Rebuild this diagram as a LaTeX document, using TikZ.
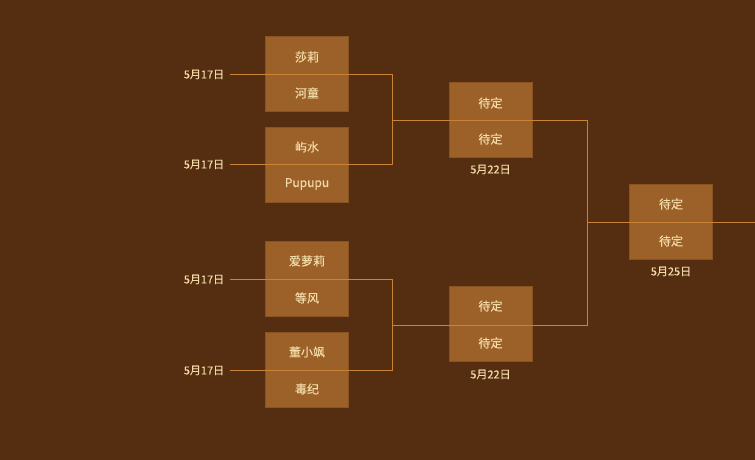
\documentclass[tikz,border=0pt]{standalone}
\usepackage{fontspec}
\setmainfont{Noto Sans CJK SC}[FakeBold=0.4]
\definecolor{bgc}{HTML}{552D11}
\definecolor{boxfill}{HTML}{9C6129}
\definecolor{boxline}{HTML}{8A5322}
\definecolor{linec}{HTML}{C98339}
\definecolor{txtc}{HTML}{F3DBA8}
\begin{document}
\begin{tikzpicture}[x=1pt,y=-1pt,
  matchbox/.style={draw=boxline,fill=boxfill,line width=0.8pt,minimum width=83pt,minimum height=75pt,inner sep=0pt},
  nm/.style={text=txtc,font=\fontsize{12}{14}\selectfont,inner sep=0pt},
  dt/.style={text=txtc,font=\fontsize{11}{13}\selectfont,inner sep=0pt},
  conn/.style={draw=linec,line width=0.9pt}]
\fill[bgc] (0,0) rectangle (755,460);
\useasboundingbox (0,0) rectangle (755,460);
% round 1 boxes
\node[matchbox] (b1) at (307,74) {};
\node[matchbox] (b2) at (307,165) {};
\node[matchbox] (b3) at (307,279) {};
\node[matchbox] (b4) at (307,370) {};
% round 2 boxes
\node[matchbox] (s1) at (490.5,120) {};
\node[matchbox] (s2) at (490.5,324) {};
% final
\node[matchbox] (f1) at (671,222) {};
% names
\node[nm] (n1a) at (307,57) {莎莉};
\node[nm] (n1b) at (307,93) {河童};
\node[nm] (n2a) at (307,147) {屿水};
\node[nm] (n2b) at (307,184) {Pupupu};
\node[nm] (n3a) at (307,261) {爱萝莉};
\node[nm] (n3b) at (307,298) {等风};
\node[nm] (n4a) at (307,352) {董小飒};
\node[nm] (n4b) at (307,389) {毒纪};
\node[nm] (s1a) at (490.5,103) {待定};
\node[nm] (s1b) at (490.5,139) {待定};
\node[nm] (s2a) at (490.5,306) {待定};
\node[nm] (s2b) at (490.5,343) {待定};
\node[nm] (f1a) at (671,204) {待定};
\node[nm] (f1b) at (671,241) {待定};
% dates
\node[dt] (d1) at (204,74.5) {5月17日};
\node[dt] (d2) at (204,164.5) {5月17日};
\node[dt] (d3) at (204,279.5) {5月17日};
\node[dt] (d4) at (204,370.5) {5月17日};
\node[dt] (d5) at (490.5,169.5) {5月22日};
\node[dt] (d6) at (490.5,374.5) {5月22日};
\node[dt] (d7) at (671,271.5) {5月25日};
% connector coordinates
\coordinate (p1) at (230,74);
\coordinate (p2) at (230,164);
\coordinate (p3) at (230,279);
\coordinate (p4) at (230,370);
\coordinate (j1) at (392.5,120);
\coordinate (j2) at (392.5,325);
\coordinate (j3) at (587.5,222);
\coordinate (endf) at (755,222);
% connectors
\draw[conn] (p1) -| (j1) |- (p2);
\draw[conn] (p3) -| (j2) |- (p4);
\draw[conn] (j1) -- (s1.center -| j3) -- (j3);
\draw[conn] (j2) -- (j2 -| j3) -- (j3);
\draw[conn] (j3) -- (endf);
\end{tikzpicture}
\end{document}
